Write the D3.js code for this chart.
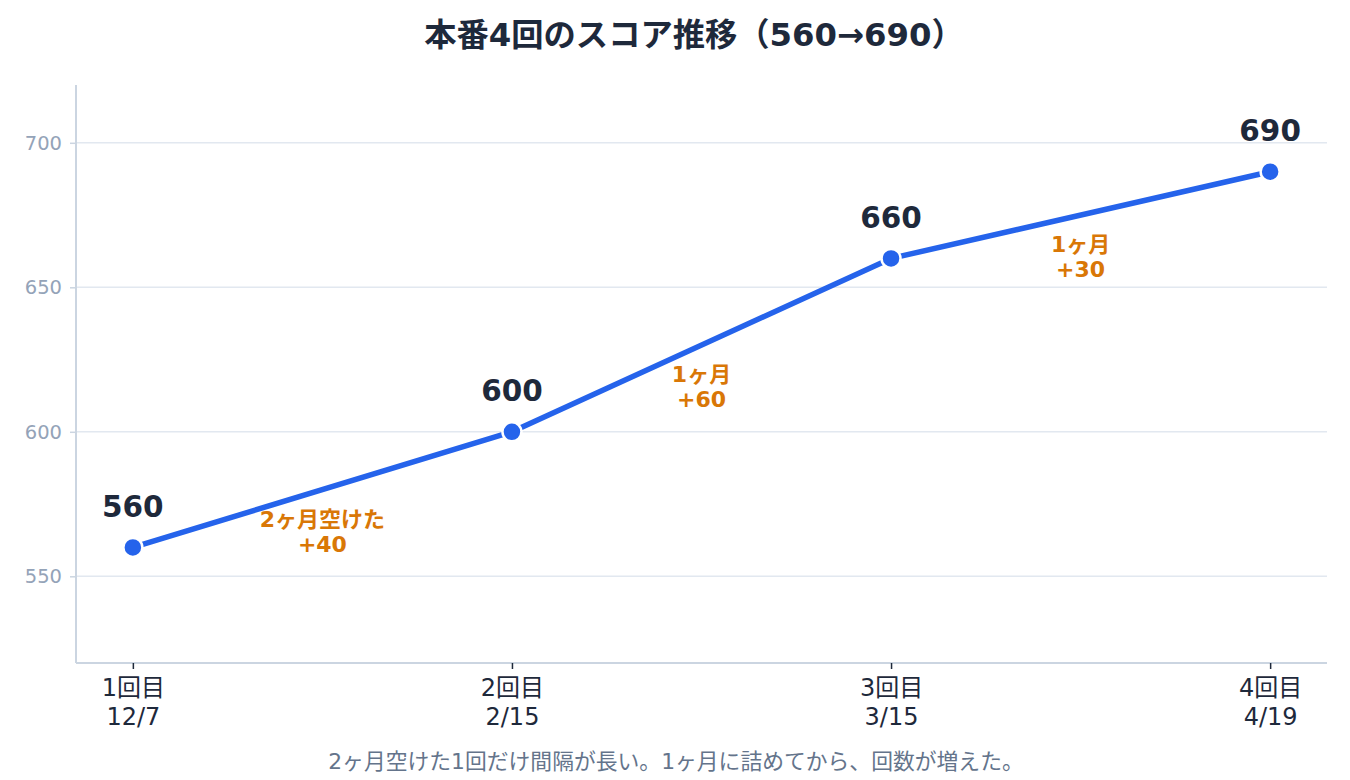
<!DOCTYPE html>
<html><head><meta charset="utf-8">
<script src="https://cdn.jsdelivr.net/npm/d3@7"></script>
<style>
body{margin:0;background:#fff;font-family:"DejaVu Sans","Noto Sans CJK JP",sans-serif;}
</style></head>
<body><svg id="c" width="1350" height="780"></svg>
<script>
const rounds = ["1回目","2回目","3回目","4回目"];
const dates = ["12/7","2/15","3/15","4/19"];
const scores = [560,600,660,690];
const gapLabels = ["2ヶ月空けた","1ヶ月","1ヶ月"];
const gainLabels = ["+40","+60","+30"];
const yTicks = [550,600,650,700];
const yDomain = [520,720];

const svg = d3.select("#c");
const L=76, R=1327, T=85, B=663;
const x = d3.scalePoint().domain(rounds).range([L,R]).padding(0.15);
const y = d3.scaleLinear().domain(yDomain).range([B,T]);
const font = '"DejaVu Sans","Noto Sans CJK JP",sans-serif';

svg.append("text").attr("x",694).attr("y",37).attr("text-anchor","middle")
  .attr("dominant-baseline","middle").attr("font-size",32.3).attr("font-weight",700)
  .attr("fill","#1e293b").attr("font-family",font).text("本番4回のスコア推移（560→690）");

// grid
svg.append("g").selectAll("line").data(yTicks).join("line")
  .attr("x1",L).attr("x2",R).attr("y1",d=>y(d)).attr("y2",d=>y(d))
  .attr("stroke","#e2e8f0").attr("stroke-width",1.5);

// y axis
const ya = svg.append("g").attr("transform",`translate(${L},0)`)
  .call(d3.axisLeft(y).tickValues(yTicks).tickSize(6).tickPadding(8));
ya.select(".domain").attr("stroke","#cbd5e1").attr("stroke-width",2).attr("d",`M0,${T}V${B}`);
ya.selectAll(".tick line").attr("stroke","#cbd5e1").attr("stroke-width",1.5);
ya.selectAll(".tick text").attr("fill","#94a3b8").attr("font-size",19.5).attr("font-family",font);

// x axis
const xa = svg.append("g").attr("transform",`translate(0,${B})`)
  .call(d3.axisBottom(x).tickSize(6).tickFormat(""));
xa.select(".domain").attr("stroke","#cbd5e1").attr("stroke-width",2).attr("d",`M${L},0H${R}`);
xa.selectAll(".tick line").attr("stroke","#1e293b").attr("stroke-width",1.5);
xa.selectAll(".tick").each(function(d,i){
  const g = d3.select(this);
  g.append("text").attr("fill","#1e293b").attr("font-size",24).attr("font-family",font)
    .attr("text-anchor","middle").attr("x",0).attr("y",26).attr("dominant-baseline","middle").text(d);
  g.append("text").attr("fill","#1e293b").attr("font-size",24).attr("font-family",font)
    .attr("text-anchor","middle").attr("x",0).attr("y",55).attr("dominant-baseline","middle").text(dates[i]);
});

// line
const pts = rounds.map((r,i)=>({r, v:scores[i]}));
svg.append("path").datum(pts)
  .attr("d", d3.line().x(d=>x(d.r)).y(d=>y(d.v)))
  .attr("fill","none").attr("stroke","#2563eb").attr("stroke-width",5.5)
  .attr("stroke-linejoin","round");

svg.append("g").selectAll("circle").data(pts).join("circle")
  .attr("cx",d=>x(d.r)).attr("cy",d=>y(d.v)).attr("r",9.5)
  .attr("fill","#2563eb").attr("stroke","#fff").attr("stroke-width",2.5);

svg.append("g").selectAll("text").data(pts).join("text")
  .attr("x",d=>x(d.r)).attr("y",d=>y(d.v)-39).attr("text-anchor","middle")
  .attr("dominant-baseline","middle").attr("font-size",29.5).attr("font-weight",700)
  .attr("fill","#1e293b").attr("font-family",font).text(d=>d.v);

// segment annotations
const segs = gapLabels.map((g,i)=>({g, gain:gainLabels[i],
  mx:(x(rounds[i])+x(rounds[i+1]))/2, my:(y(scores[i])+y(scores[i+1]))/2}));
const ag = svg.append("g");
segs.forEach(s=>{
  ag.append("text").attr("text-anchor","middle").attr("font-size",22)
    .attr("font-weight",700).attr("fill","#d97706").attr("font-family",font)
    .attr("x",s.mx).attr("y",s.my+31).attr("dominant-baseline","middle").text(s.g);
  ag.append("text").attr("text-anchor","middle").attr("font-size",22)
    .attr("font-weight",700).attr("fill","#d97706").attr("font-family",font)
    .attr("x",s.mx).attr("y",s.my+56).attr("dominant-baseline","middle").text(s.gain);
});

svg.append("text").attr("x",676).attr("y",763).attr("text-anchor","middle")
  .attr("dominant-baseline","middle").attr("font-size",21.8).attr("fill","#64748b")
  .attr("font-family",font).text("2ヶ月空けた1回だけ間隔が長い。1ヶ月に詰めてから、回数が増えた。");
</script></body></html>
